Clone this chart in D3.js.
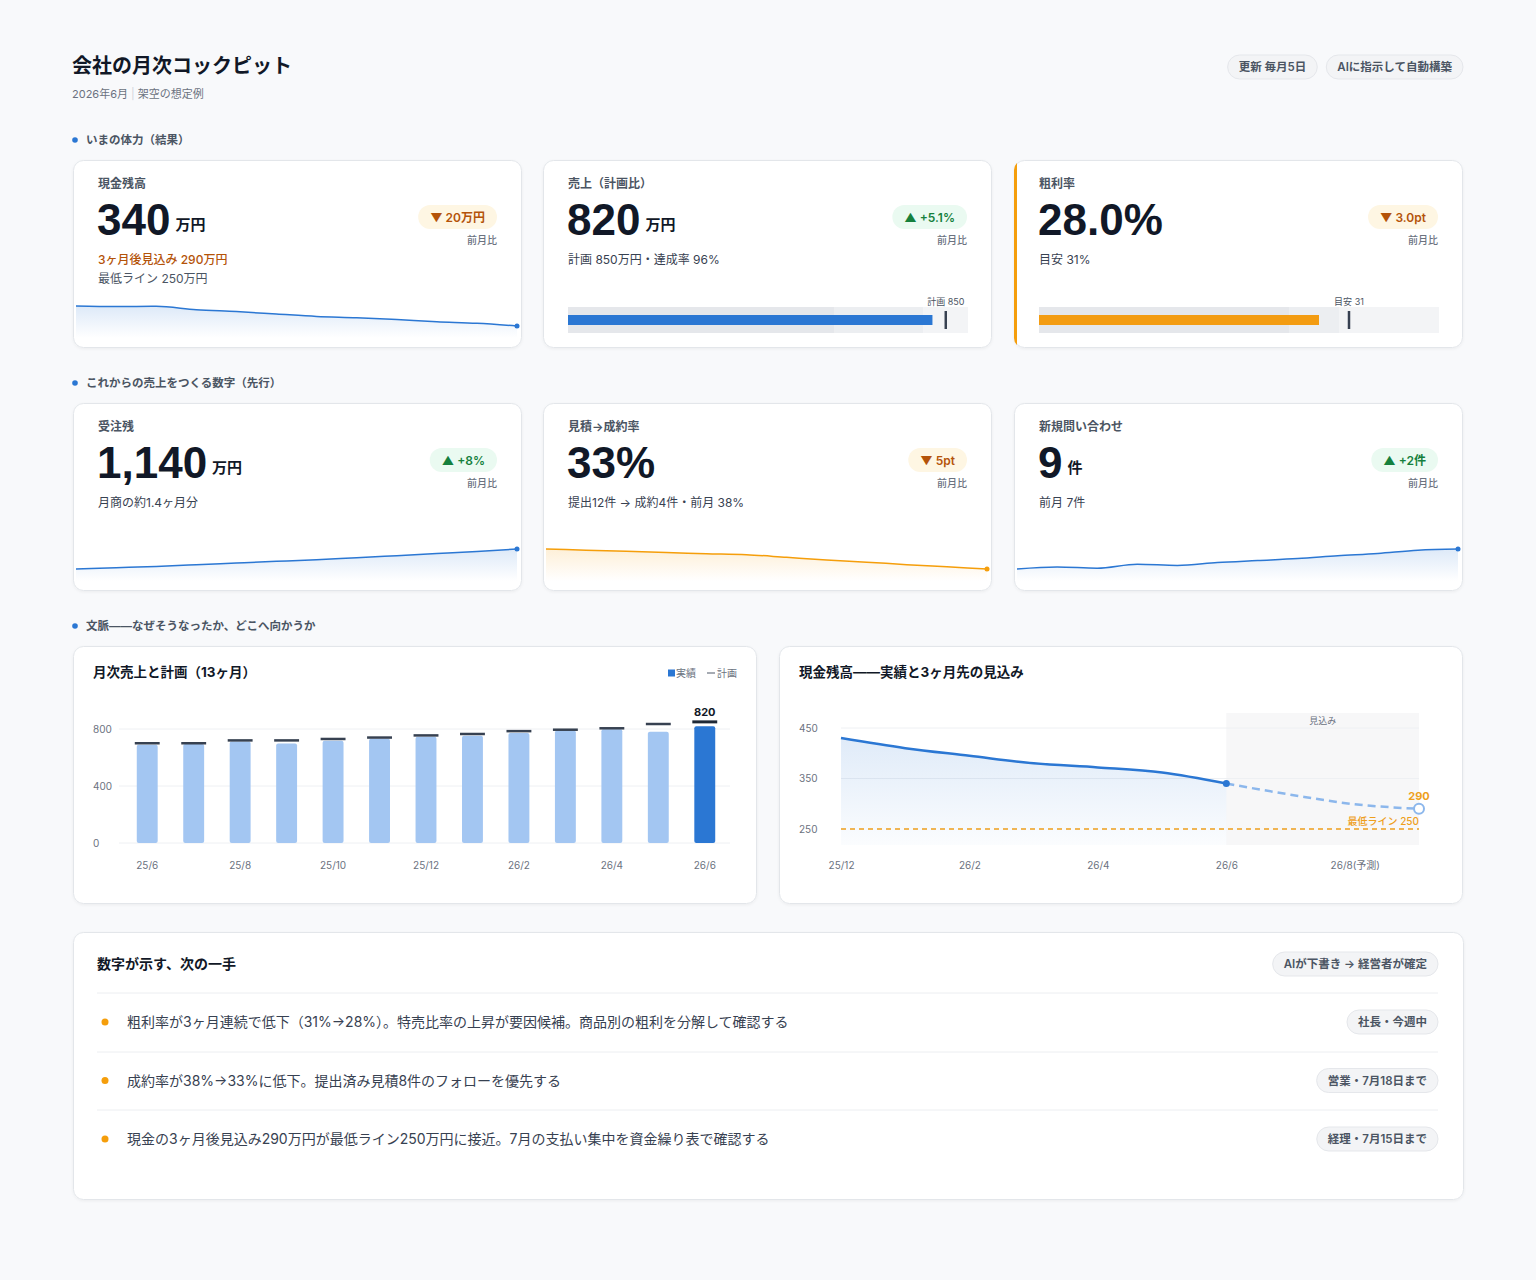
<!DOCTYPE html>
<html>
<head>
<meta charset="utf-8">
<script src="https://cdn.jsdelivr.net/npm/d3@7"></script>
<style>
body{margin:0;background:#f8f9fb;}
svg{display:block;font-family:Inter,"Noto Sans CJK JP",sans-serif;}
</style>
</head>
<body>
<script>
var W=1536,H=1280;

var title="会社の月次コックピット";
var subtitle=["2026年6月","架空の想定例"];
var headPills=["更新 毎月5日","AIに指示して自動構築"];
var sections=["いまの体力（結果）","これからの売上をつくる数字（先行）","文脈——なぜそうなったか、どこへ向かうか"];

var kpiLabels=["現金残高","売上（計画比）","粗利率","受注残","見積→成約率","新規問い合わせ"];
var kpiValues=["340","820","28.0%","1,140","33%","9"];
var kpiUnits=["万円","万円","","万円","","件"];
var kpiDeltas=["▼ 20万円","▲ +5.1%","▼ 3.0pt","▲ +8%","▼ 5pt","▲ +2件"];
var kpiDir=["down","up","down","up","down","up"];
var kpiNotes=[["3ヶ月後見込み 290万円","最低ライン 250万円"],["計画 850万円・達成率 96%"],["目安 31%"],["月商の約1.4ヶ月分"],["提出12件 → 成約4件・前月 38%"],["前月 7件"]];

var sparkCash=[490,486,488,462,448,430,412,402,388,372,360,340];
var sparkBacklog=[900,915,931,951,972,992,1012,1036,1060,1085,1111,1140];
var sparkWinRate=[45,44.3,43.6,42.9,42.2,41.6,40,38.4,37.1,35.6,34.3,33];
var sparkInquiry=[4,4.5,4.2,5.2,4.9,5.6,6.1,6.6,7.3,7.9,8.7,9];

var salesBullet={value:820,target:850,bands:[600,800,900],label:"計画 850"};
var marginBullet={value:28,target:31,bands:[25,30,40],label:"目安 31"};

var months13=["25/6","25/7","25/8","25/9","25/10","25/11","25/12","26/1","26/2","26/3","26/4","26/5","26/6"];
var salesActual=[690,695,712,698,718,732,745,752,772,790,798,780,820];
var salesPlan=[700,700,720,720,730,740,755,765,785,795,805,835,850];
var salesTicks=[0,400,800];

var cashMonths=["25/12","26/1","26/2","26/3","26/4","26/5","26/6","26/7","26/8","26/9"];
var cashActual=[430,410,395,380,372,362,340];
var cashForecast=[340,318,299,290];
var cashFloor=250;
var cashTicks=[250,350,450];
var cashXTicks=["25/12","26/2","26/4","26/6","26/8"];
var cashXLabels=["25/12","26/2","26/4","26/6","26/8(予測)"];

var actionTitle="数字が示す、次の一手";
var actionTag="AIが下書き → 経営者が確定";
var actions=["粗利率が3ヶ月連続で低下（31%→28%）。特売比率の上昇が要因候補。商品別の粗利を分解して確認する",
  "成約率が38%→33%に低下。提出済み見積8件のフォローを優先する",
  "現金の3ヶ月後見込み290万円が最低ライン250万円に接近。7月の支払い集中を資金繰り表で確認する"];
var owners=["社長・今週中","営業・7月18日まで","経理・7月15日まで"];

var BLUE="#2b77d3",LIGHTBLUE="#a3c6f2",ORANGE="#f59e0b",AMBER="#ee9f1c";

var svg=d3.select("body").append("svg").attr("width",W).attr("height",H);
var defs=svg.append("defs");
var sh=defs.append("filter").attr("id","sh").attr("x","-5%").attr("y","-10%").attr("width","110%").attr("height","125%");
sh.append("feDropShadow").attr("dx",0).attr("dy",1).attr("stdDeviation",1.5)
  .attr("flood-color","#0f172a").attr("flood-opacity",0.05);

var txt=function(g,x,y,s,size,color,weight,anchor){
  return g.append("text").attr("x",x).attr("y",y).text(s)
    .attr("font-size",size).attr("fill",color)
    .attr("font-weight",weight||400).attr("text-anchor",anchor||"start");
}

var card=function(g,x,y,w,h){
  return g.append("rect").attr("x",x+0.5).attr("y",y+0.5).attr("width",w-1).attr("height",h-1)
    .attr("rx",10).attr("fill","#fff").attr("stroke","#e3e6ea").attr("filter","url(#sh)");
}

// pill anchored on its right edge
var pill=function(g,xr,cy,s,size,h,pad){
  var pg=g.append("g");
  var r=pg.append("rect");
  var t=txt(pg,0,cy+size*0.36,s,size,"#4b5563",600,"middle");
  var tw=t.node().getComputedTextLength();
  var w=tw+pad*2;
  r.attr("x",xr-w).attr("y",cy-h/2).attr("width",w).attr("height",h).attr("rx",h/2)
    .attr("fill","#f3f4f6").attr("stroke","#e5e7eb");
  t.attr("x",xr-w/2);
  return xr-w;
}

var styleAxis=function(a){
  a.attr("font-family",null);
  a.select(".domain").remove();
  a.selectAll("text").attr("font-size",10).attr("fill","#6b7280");
}

// header
txt(svg,72,73,title,20,"#111827",700);
var st=txt(svg,72,98,"",11,"#6b7280",400);
st.append("tspan").text(subtitle[0]);
st.append("tspan").text(" | ").attr("fill","#d1d5db");
st.append("tspan").text(subtitle[1]);
var px=pill(svg,1463,67,headPills[1],11.5,24,11);
pill(svg,px-9,67,headPills[0],11.5,24,11);

[140,383,626].forEach(function(y,i){
  svg.append("circle").attr("cx",75).attr("cy",y).attr("r",2.8).attr("fill",BLUE);
  txt(svg,86,y+4,sections[i],11.5,"#4b5563",700);
});

// KPI cards
var colX=[73,543,1014],rowY=[160,403],cardW=449,cardH=188;
var sparks=[sparkCash,null,null,sparkBacklog,sparkWinRate,sparkInquiry];
var sparkColors=[BLUE,null,null,BLUE,ORANGE,BLUE];
var bullets=[null,salesBullet,marginBullet,null,null,null];
var bulletColors=[null,BLUE,"#f39c12",null,null,null];

kpiLabels.forEach(function(lab,i){
  var cx=colX[i%3],cy=rowY[Math.floor(i/3)];
  var g=svg.append("g");
  card(g,cx,cy,cardW,cardH);
  if(i==2){
    defs.append("clipPath").attr("id","clip2").append("rect")
      .attr("x",cx).attr("y",cy).attr("width",cardW).attr("height",cardH).attr("rx",10);
    g.append("rect").attr("x",cx).attr("y",cy).attr("width",3).attr("height",cardH)
      .attr("fill",ORANGE).attr("clip-path","url(#clip2)");
  }
  var lx=cx+25;
  txt(g,lx,cy+28,lab,12,"#4b5563",600);
  var big=txt(g,lx-1,cy+75,kpiValues[i],44,"#111827",700)
    .attr("font-family","'Liberation Sans',Arial,sans-serif");
  if(kpiUnits[i]){
    var bw=big.node().getComputedTextLength();
    txt(g,lx-1+bw+5,cy+70,kpiUnits[i],15,"#111827",700);
  }
  var up=kpiDir[i]=="up";
  var bgp=g.append("g");
  var br=bgp.append("rect");
  var bt=txt(bgp,0,cy+61.5,kpiDeltas[i],12,up?"#15803d":"#b45309",600,"middle");
  var tw=bt.node().getComputedTextLength();
  var bx=cx+cardW-25-tw-24;
  br.attr("x",bx).attr("y",cy+45).attr("width",tw+24).attr("height",24).attr("rx",12)
    .attr("fill",up?"#eafaf1":"#fef6e3");
  bt.attr("x",bx+(tw+24)/2);
  txt(g,cx+cardW-25,cy+84,"前月比",10,"#6b7280",500,"end");
  kpiNotes[i].forEach(function(n,j){
    var c=(i==0&&j==0)?"#b45309":(i==0?"#4b5563":"#374151");
    txt(g,lx,cy+104+j*19,n,12,c,(i==0&&j==0)?500:400);
  });

  if(sparks[i]){
    var vals=sparks[i],col=sparkColors[i];
    var xs=d3.scaleLinear().domain([0,vals.length-1]).range([cx+3,cx+cardW-5]);
    var ys=d3.scaleLinear().domain(d3.extent(vals)).range([cy+166,cy+146]);
    var gid="sg"+i;
    var gr=defs.append("linearGradient").attr("id",gid).attr("gradientUnits","userSpaceOnUse")
      .attr("x1",0).attr("x2",0).attr("y1",cy+146).attr("y2",cy+178);
    gr.append("stop").attr("offset",0).attr("stop-color",col).attr("stop-opacity",0.16);
    gr.append("stop").attr("offset",1).attr("stop-color",col).attr("stop-opacity",0);
    var area=d3.area().x(function(d,k){return xs(k);}).y0(cy+178).y1(function(d){return ys(d);}).curve(d3.curveMonotoneX);
    var line=d3.line().x(function(d,k){return xs(k);}).y(function(d){return ys(d);}).curve(d3.curveMonotoneX);
    g.append("path").datum(vals).attr("d",area).attr("fill","url(#"+gid+")");
    g.append("path").datum(vals).attr("d",line).attr("fill","none").attr("stroke",col).attr("stroke-width",1.5);
    g.append("circle").attr("cx",xs(vals.length-1)).attr("cy",ys(vals[vals.length-1])).attr("r",2.5).attr("fill",col);
  }
  if(bullets[i]){
    var b=bullets[i];
    var xb=d3.scaleLinear().domain([0,b.bands[b.bands.length-1]]).range([lx,lx+400]);
    var bandCols=["#e5e7eb","#eceef1","#f3f4f6"];
    var prev=0;
    b.bands.forEach(function(v,k){
      g.append("rect").attr("x",xb(prev)).attr("y",cy+147).attr("width",xb(v)-xb(prev)).attr("height",26).attr("fill",bandCols[k]);
      prev=v;
    });
    g.append("rect").attr("x",xb(0)).attr("y",cy+155).attr("width",xb(b.value)-xb(0)).attr("height",10).attr("fill",bulletColors[i]);
    g.append("line").attr("x1",xb(b.target)).attr("x2",xb(b.target)).attr("y1",cy+151).attr("y2",cy+169)
      .attr("stroke","#374151").attr("stroke-width",2.5);
    txt(g,xb(b.target),cy+145,b.label,9,"#4b5563",400,"middle");
  }
});

// monthly sales chart
var g1=svg.append("g");
card(g1,73,646,684,258);
txt(g1,93,677,"月次売上と計画（13ヶ月）",13.5,"#111827",700);
g1.append("rect").attr("x",668).attr("y",669.5).attr("width",7).attr("height",7).attr("fill",BLUE);
txt(g1,676,677,"実績",10,"#6b7280",400);
g1.append("line").attr("x1",707).attr("x2",715).attr("y1",673).attr("y2",673).attr("stroke","#6b7280").attr("stroke-width",1.2);
txt(g1,717,677,"計画",10,"#6b7280",400);

var xB=d3.scaleBand().domain(months13).range([124,728]).paddingInner(0.55).paddingOuter(0.275);
var yB=d3.scaleLinear().domain([0,800]).range([843,729]);
salesTicks.forEach(function(t){
  g1.append("line").attr("x1",119).attr("x2",730).attr("y1",yB(t)).attr("y2",yB(t)).attr("stroke","#eef0f3");
});
var bw=xB.bandwidth();
g1.selectAll("rect.bar").data(salesActual).enter().append("rect").attr("class","bar")
  .attr("x",function(d,i){return xB(months13[i]);})
  .attr("y",function(d){return yB(d);})
  .attr("width",bw)
  .attr("height",function(d){return yB(0)-yB(d);})
  .attr("rx",2)
  .attr("fill",function(d,i){return i==months13.length-1?BLUE:LIGHTBLUE;});
g1.selectAll("line.plan").data(salesPlan).enter().append("line").attr("class","plan")
  .attr("x1",function(d,i){return xB(months13[i])-2;})
  .attr("x2",function(d,i){return xB(months13[i])+bw+2;})
  .attr("y1",function(d){return yB(d);})
  .attr("y2",function(d){return yB(d);})
  .attr("stroke",function(d,i){return i==months13.length-1?"#1f2937":"#374151";})
  .attr("stroke-width",function(d,i){return i==months13.length-1?3:2.5;});
var last=months13.length-1;
txt(g1,xB(months13[last])+bw/2,yB(salesPlan[last])-6,String(salesActual[last]),11,"#111827",700,"middle");

var ay1=g1.append("g").attr("transform","translate(93,0)")
  .call(d3.axisLeft(yB).tickValues(salesTicks).tickSize(0).tickPadding(0));
styleAxis(ay1);
ay1.selectAll("text").attr("text-anchor","start").attr("x",0);
var ax1=g1.append("g").attr("transform","translate(0,861.5)")
  .call(d3.axisBottom(xB).tickValues(months13.filter(function(d,i){return i%2==0;})).tickSize(0).tickPadding(0));
styleAxis(ax1);

// cash chart
var g2=svg.append("g");
card(g2,779,646,684,258);
txt(g2,799,677,"現金残高——実績と3ヶ月先の見込み",13.5,"#111827",700);
var xC=d3.scalePoint().domain(cashMonths).range([841,1419]);
var yC=d3.scaleLinear().domain([250,450]).range([829,728]);
var fm=cashMonths.slice(cashActual.length-1);
g2.append("rect").attr("x",xC(fm[0])).attr("y",713).attr("width",xC(fm[fm.length-1])-xC(fm[0])).attr("height",132).attr("fill","#f7f7f8");
txt(g2,(xC(fm[0])+xC(fm[fm.length-1]))/2,724,"見込み",9,"#6b7280",400,"middle");
cashTicks.filter(function(t){return t!=cashFloor;}).forEach(function(t){
  g2.append("line").attr("x1",841).attr("x2",1419).attr("y1",yC(t)).attr("y2",yC(t)).attr("stroke","#eef0f3");
});
var cg=defs.append("linearGradient").attr("id","cashg").attr("gradientUnits","userSpaceOnUse")
  .attr("x1",0).attr("x2",0).attr("y1",728).attr("y2",845);
cg.append("stop").attr("offset",0).attr("stop-color",BLUE).attr("stop-opacity",0.16);
cg.append("stop").attr("offset",1).attr("stop-color",BLUE).attr("stop-opacity",0.02);
var am=cashMonths.slice(0,cashActual.length);
g2.append("path").datum(cashActual)
  .attr("d",d3.area().x(function(d,i){return xC(am[i]);}).y0(845).y1(function(d){return yC(d);}).curve(d3.curveMonotoneX))
  .attr("fill","url(#cashg)");
g2.append("line").attr("x1",841).attr("x2",1419).attr("y1",yC(cashFloor)).attr("y2",yC(cashFloor))
  .attr("stroke",AMBER).attr("stroke-width",1.5).attr("stroke-dasharray","5,4");
g2.append("path").datum(cashActual)
  .attr("d",d3.line().x(function(d,i){return xC(am[i]);}).y(function(d){return yC(d);}).curve(d3.curveMonotoneX))
  .attr("fill","none").attr("stroke",BLUE).attr("stroke-width",2.5);
g2.append("path").datum(cashForecast)
  .attr("d",d3.line().x(function(d,i){return xC(fm[i]);}).y(function(d){return yC(d);}).curve(d3.curveMonotoneX))
  .attr("fill","none").attr("stroke","#8cb7ec").attr("stroke-width",2.5).attr("stroke-dasharray","8,5");
g2.append("circle").attr("cx",xC(fm[0])).attr("cy",yC(cashForecast[0])).attr("r",3.5).attr("fill",BLUE);
var fl=cashForecast[cashForecast.length-1],fx=xC(fm[fm.length-1]);
g2.append("circle").attr("cx",fx).attr("cy",yC(fl)).attr("r",5).attr("fill","#fff").attr("stroke","#8cb7ec").attr("stroke-width",2);
txt(g2,fx,yC(fl)-9,String(fl),11,AMBER,700,"middle");
txt(g2,fx,yC(cashFloor)-4,"最低ライン "+cashFloor,10,AMBER,500,"end");

var ay2=g2.append("g").attr("transform","translate(799,0)")
  .call(d3.axisLeft(yC).tickValues(cashTicks).tickSize(0).tickPadding(0));
styleAxis(ay2);
ay2.selectAll("text").attr("text-anchor","start").attr("x",0);
var ax2=g2.append("g").attr("transform","translate(0,861.5)")
  .call(d3.axisBottom(xC).tickValues(cashXTicks).tickSize(0).tickPadding(0)
    .tickFormat(function(d){return cashXLabels[cashXTicks.indexOf(d)];}));
styleAxis(ax2);

// actions
var g3=svg.append("g");
card(g3,73,932,1391,268);
txt(g3,97,969,actionTitle,14,"#111827",700);
pill(g3,1438,964,actionTag,11.5,24,11);
[993,1052,1110].forEach(function(y){
  g3.append("line").attr("x1",97).attr("x2",1438).attr("y1",y).attr("y2",y).attr("stroke","#eceef1");
});
actions.forEach(function(a,i){
  var y=1022+i*58.5;
  g3.append("circle").attr("cx",105).attr("cy",y).attr("r",3.5).attr("fill",ORANGE);
  txt(g3,127,y+5,a,14,"#374151",400);
  pill(g3,1438,y,owners[i],11.5,24,11);
});
</script>
</body>
</html>
